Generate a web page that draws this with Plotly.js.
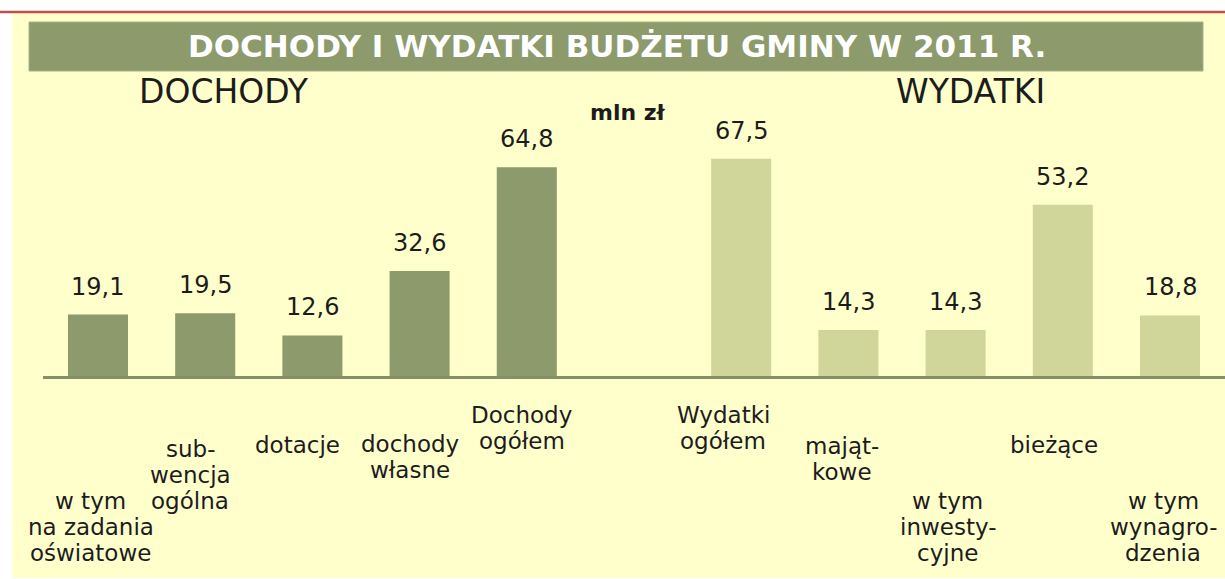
<!DOCTYPE html>
<html>
<head>
<meta charset="utf-8">
<script src="https://cdn.plot.ly/plotly-3.0.1.min.js"></script>
<style>html,body{margin:0;padding:0;background:#fff;}#chart{width:1225px;height:579px;}</style>
</head>
<body>
<div id="chart"></div>
<script>
// ---- data ----
const chartTitle = "DOCHODY I WYDATKI BUDŻETU GMINY W 2011 R.";
const groupIncome = "DOCHODY";
const groupExpense = "WYDATKI";
const unitLabel = "mln zł";
const incomeLabels = ["w tym<br>na zadania<br>oświatowe", "sub-<br>wencja<br>ogólna", "dotacje", "dochody<br>własne", "Dochody<br>ogółem"];
const incomeValues = [19.1, 19.5, 12.6, 32.6, 64.8];
const expenseLabels = ["Wydatki<br>ogółem", "mająt-<br>kowe", "w tym<br>inwesty-<br>cyjne", "bieżące", "w tym<br>wynagro-<br>dzenia"];
const expenseValues = [67.5, 14.3, 14.3, 53.2, 18.8];

// ---- layout / style ----
const W = 1225, H = 579;
const M = {l: 43, r: 0, t: 0, b: 203};
const PW = W - M.l - M.r, PH = H - M.t - M.b;
const px = x => (x - M.l) / PW;
const py = y => (M.t + PH - y) / PH;
const darkC = "#8c9a6c", lightC = "#d0d59a", bgC = "#ffffcc", textC = "#1c1c1c";
const FONT = "DejaVu Sans, Arial, sans-serif";

const incomeX = incomeValues.map((v, i) => i);
const expenseX = expenseValues.map((v, i) => i + incomeValues.length + 1);
const nSlots = incomeValues.length + expenseValues.length + 1;

// label vertical centres (px) and horizontal nudges
const incomeLabelY = [527, 475, 445, 457, 428];
const incomeLabelDX = [-7, -15, -15, -10, -5];
const expenseLabelY = [428, 459, 527, 445, 527];
const expenseLabelDX = [-18, -6, -8, -9, -7];
const LINE_H = 26;

const fmt = v => v.toFixed(1).replace(".", ",");

const traces = [
  {type: "bar", x: incomeX, y: incomeValues, width: 0.56, marker: {color: darkC}, hoverinfo: "skip", showlegend: false},
  {type: "bar", x: expenseX, y: expenseValues, width: 0.56, marker: {color: lightC}, hoverinfo: "skip", showlegend: false}
];

const annotations = [];
function addGroup(xs, vals, labels, ly, dx) {
  xs.forEach((x, i) => {
    annotations.push({x: x, y: vals[i], xref: "x", yref: "y", text: fmt(vals[i]), showarrow: false,
      xanchor: "center", yanchor: "bottom", yshift: 12, font: {family: FONT, size: 24, color: textC}});
    const lines = labels[i].split("<br>");
    lines.forEach((ln, k) => {
      const cy = ly[i] + (k - (lines.length - 1) / 2) * LINE_H;
      annotations.push({x: x, y: py(cy), xref: "x", yref: "paper", text: ln, showarrow: false,
        xanchor: "center", yanchor: "middle", xshift: dx[i], font: {family: FONT, size: 23, color: textC}});
    });
  });
}
addGroup(incomeX, incomeValues, incomeLabels, incomeLabelY, incomeLabelDX);
addGroup(expenseX, expenseValues, expenseLabels, expenseLabelY, expenseLabelDX);

const topText = (text, x, y, size, color, weight) => ({x: px(x), y: py(y), xref: "paper", yref: "paper", text: text,
  showarrow: false, xanchor: "center", yanchor: "middle", font: {family: FONT, size: size, color: color, weight: weight}});
annotations.push(topText(chartTitle, 617, 46, 31, "#ffffff", "bold"));
annotations.push(topText(groupIncome, 224, 91, 33, textC, "normal"));
annotations.push(topText(groupExpense, 971, 91, 33, textC, "normal"));
annotations.push(topText(unitLabel, 628, 112, 22, textC, "bold"));

const shapes = [
  {type: "rect", xref: "paper", yref: "paper", x0: px(12), x1: px(W + 5), y0: py(13), y1: py(578), fillcolor: bgC, line: {width: 0}, layer: "below"},
  {type: "line", xref: "paper", yref: "paper", x0: px(0), x1: px(W + 5), y0: py(12), y1: py(12), line: {color: "#c0504d", width: 2.5}},
  {type: "rect", xref: "paper", yref: "paper", x0: px(29), x1: px(1203), y0: py(22), y1: py(71), fillcolor: darkC, line: {color: "#a8b288", width: 1}, layer: "below"}
];

const layout = {
  width: W, height: H,
  margin: M,
  paper_bgcolor: "#ffffff",
  plot_bgcolor: "rgba(0,0,0,0)",
  xaxis: {range: [-0.513, nSlots - 0.487], showgrid: false, zeroline: false, showticklabels: false, ticks: "",
    showline: true, linecolor: "#858f6a", linewidth: 2.5, fixedrange: true},
  yaxis: {range: [0, PH / 3.22], showgrid: false, zeroline: false, showticklabels: false, ticks: "", showline: false, fixedrange: true},
  bargap: 0.44,
  annotations: annotations,
  shapes: shapes
};

Plotly.newPlot("chart", traces, layout, {displayModeBar: false, staticPlot: true});
</script>
</body>
</html>
